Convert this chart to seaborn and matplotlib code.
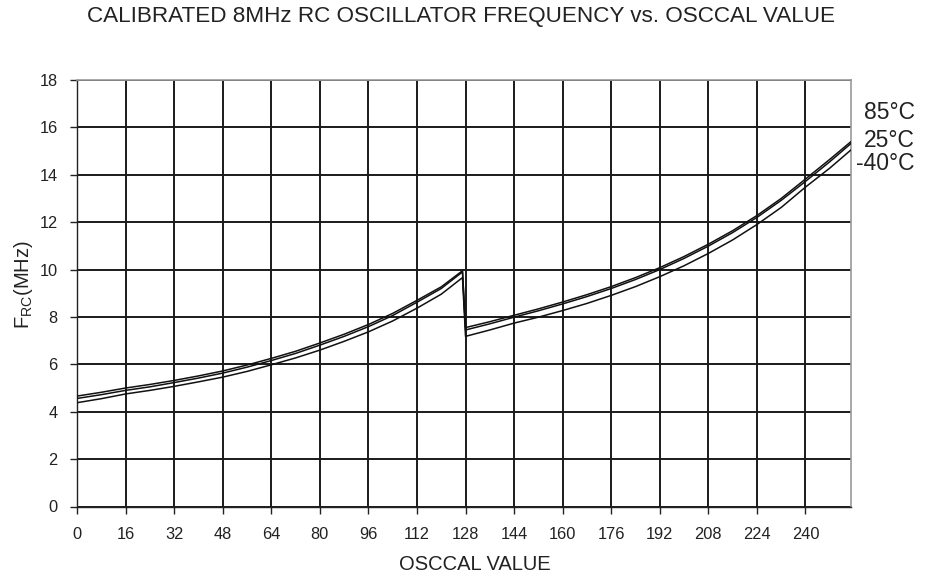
import numpy as np
import pandas as pd
import matplotlib
matplotlib.use("Agg")
import matplotlib.pyplot as plt
import seaborn as sns

# ---- data ----
osccal = [0, 8, 16, 24, 32, 40, 48, 56, 64, 72, 80, 88, 96, 104, 112, 120, 127,
          128, 136, 144, 152, 160, 168, 176, 184, 192, 200, 208, 216, 224, 232, 240, 248, 255]
f_85 = [4.66, 4.82, 5.00, 5.15, 5.32, 5.51, 5.72, 5.97, 6.25, 6.55, 6.90, 7.27, 7.68, 8.15, 8.70, 9.27, 9.95,
        7.55, 7.80, 8.07, 8.34, 8.63, 8.94, 9.28, 9.66, 10.08, 10.55, 11.07, 11.64, 12.28, 13.00, 13.82, 14.65, 15.40]
f_25 = [4.56, 4.72, 4.90, 5.05, 5.23, 5.42, 5.63, 5.88, 6.16, 6.46, 6.81, 7.18, 7.59, 8.06, 8.62, 9.20, 9.90,
        7.45, 7.71, 7.99, 8.26, 8.55, 8.86, 9.20, 9.58, 10.00, 10.47, 10.99, 11.56, 12.20, 12.92, 13.72, 14.55, 15.32]
f_m40 = [4.38, 4.55, 4.75, 4.90, 5.07, 5.26, 5.46, 5.70, 5.98, 6.27, 6.60, 6.97, 7.37, 7.83, 8.37, 8.96, 9.66,
         7.18, 7.45, 7.74, 7.99, 8.27, 8.57, 8.91, 9.28, 9.70, 10.16, 10.68, 11.25, 11.90, 12.62, 13.48, 14.28, 15.05]
temps = ["85\u00b0C", "25\u00b0C", "-40\u00b0C"]
x_ticks = [0, 16, 32, 48, 64, 80, 96, 112, 128, 144, 160, 176, 192, 208, 224, 240]
y_ticks = [0, 2, 4, 6, 8, 10, 12, 14, 16, 18]

df = pd.DataFrame({
    "OSCCAL": osccal * 3,
    "F": f_85 + f_25 + f_m40,
    "T": [temps[0]] * len(osccal) + [temps[1]] * len(osccal) + [temps[2]] * len(osccal),
})

sns.set_style("white")
plt.rcParams["font.family"] = ["Liberation Sans", "DejaVu Sans"]

W, H = 928, 579
L, R, B, T = 77, 851, 506.5, 80
fig = plt.figure(figsize=(9.28, 5.79), dpi=100)
ax = fig.add_axes([L / W, 1 - B / H, (R - L) / W, (B - T) / H])

sns.lineplot(data=df, x="OSCCAL", y="F", hue="T", palette=["#111111"] * 3,
             estimator=None, sort=False, legend=False, linewidth=1.1, ax=ax, zorder=5)

ax.set_xlim(0, 255)
ax.set_ylim(0, 18)
ax.set_xticks(x_ticks)
ax.set_xticklabels([str(v) for v in x_ticks])
ax.set_yticks(y_ticks)
ax.set_yticklabels([str(v) for v in y_ticks])
ax.grid(True, color="#1a1a1a", linewidth=1.4)
ax.set_axisbelow(True)

for s in ["left", "bottom"]:
    ax.spines[s].set_color("#222222")
    ax.spines[s].set_linewidth(1.0)
for s in ["top", "right"]:
    ax.spines[s].set_color("#999999")
    ax.spines[s].set_linewidth(1.2)

ax.tick_params(axis="both", which="both", direction="out", length=5, width=1.0,
               color="#222222", labelsize=11.8, labelcolor="#222222")
ax.tick_params(axis="x", pad=10, bottom=True)
ax.tick_params(axis="y", pad=9, left=True)

ax.set_xlabel("OSCCAL VALUE", fontsize=14.5, color="#222222", va="center")
ax.xaxis.set_label_coords((475 - L) / (R - L), (B - 565) / (B - T))
ax.set_ylabel(r"$\mathregular{F_{RC}}$(MHz)", fontsize=14.5, color="#222222", va="center")
ax.yaxis.set_label_coords((23.5 - L) / (R - L), (B - 285) / (B - T))

fig.text(461 / W, 1 - 16.7 / H, "CALIBRATED 8MHz RC OSCILLATOR FREQUENCY vs. OSCCAL VALUE",
         ha="center", va="center", fontsize=16.2, color="#222222")

label_y = [112.7, 140.5, 164.0]
for t, yy in zip(temps, label_y):
    fig.text(915 / W, 1 - yy / H, t, ha="right", va="center", fontsize=16.5, color="#222222")

fig.savefig("out.png", dpi=100)
